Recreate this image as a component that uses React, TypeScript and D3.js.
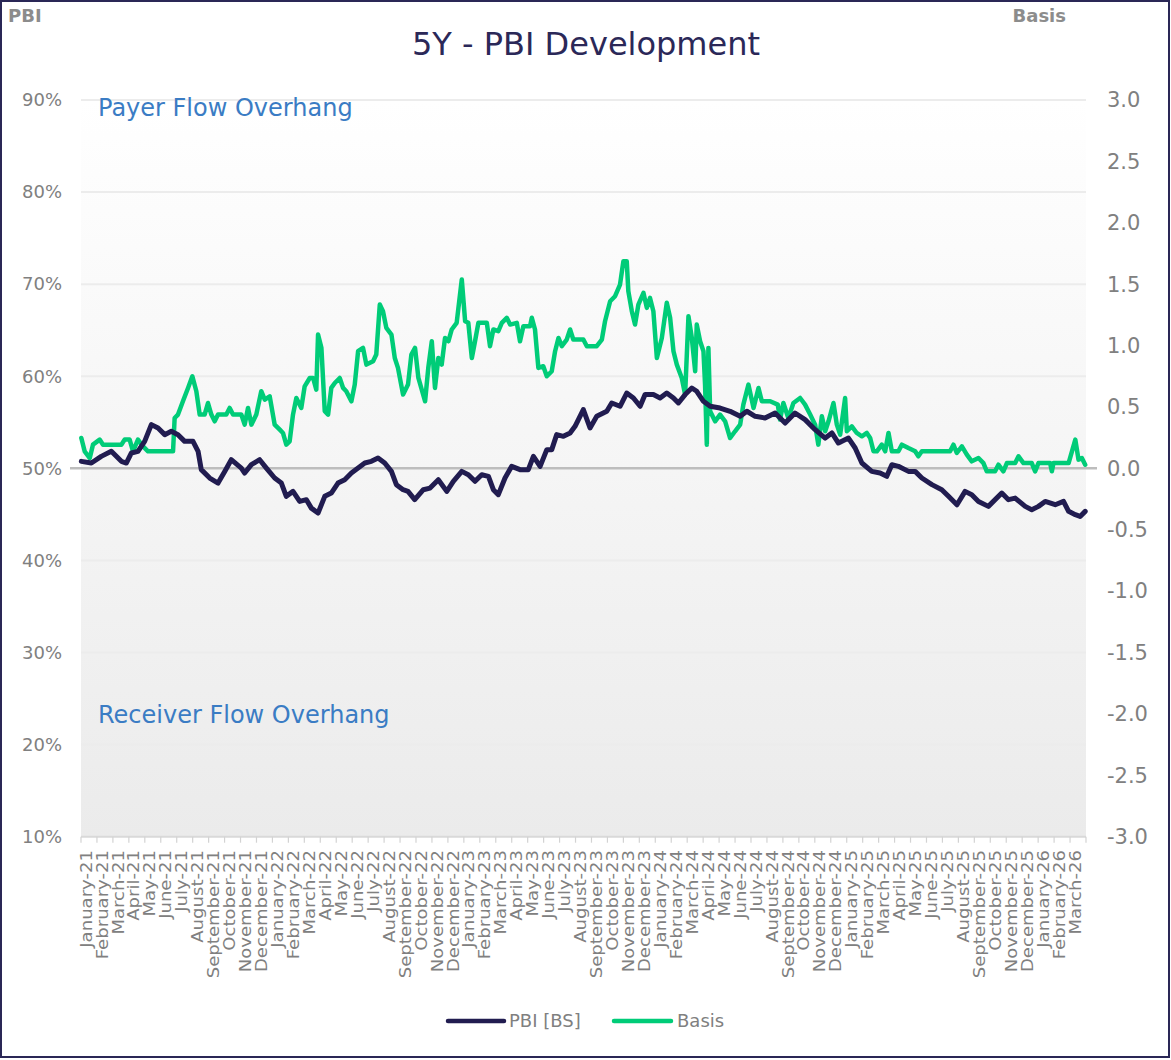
import React from "react";
import * as d3 from "d3";

// months since 1 Jan 2021 (fractional) and PBI values in %
const pbiMonths = [0.02,0.65,1.27,1.90,2.53,2.84,3.16,3.57,3.99,4.41,4.83,5.25,5.66,6.08,6.50,7.02,7.34,7.54,8.07,8.59,9.01,9.42,10.05,10.26,10.68,11.20,11.62,12.14,12.56,12.87,13.29,13.71,14.13,14.44,14.86,15.28,15.69,16.11,16.53,16.95,17.37,17.79,18.20,18.62,19.04,19.46,19.77,20.19,20.50,20.92,21.46,21.88,22.40,22.93,23.34,23.87,24.28,24.70,25.12,25.54,25.85,26.16,26.58,27.00,27.52,28.04,28.36,28.78,29.20,29.51,29.82,30.24,30.66,30.97,31.49,31.91,32.33,32.96,33.27,33.79,34.21,34.63,35.05,35.36,35.88,36.30,36.72,37.14,37.45,37.87,38.29,38.60,39.02,39.44,40.06,40.69,41.32,41.74,42.26,42.88,43.51,44.14,44.76,45.39,46.02,46.65,47.07,47.48,48.11,48.53,48.95,49.57,50.09,50.51,50.83,51.24,51.87,52.29,52.71,53.34,53.96,54.38,54.91,55.42,55.84,56.26,56.88,57.72,58.14,58.56,59.19,59.60,60.02,60.44,61.07,61.59,61.91,62.33,62.63,62.95];
const pbiValues = [50.76,50.58,51.30,51.85,50.76,50.58,51.67,51.85,52.93,54.75,54.38,53.66,54.02,53.66,52.93,52.93,51.85,49.86,48.95,48.40,49.67,50.94,50.03,49.49,50.40,50.94,50.03,48.95,48.40,46.96,47.50,46.41,46.60,45.68,45.14,46.96,47.32,48.40,48.77,49.49,50.03,50.58,50.76,51.12,50.58,49.67,48.23,47.68,47.50,46.60,47.68,47.86,48.77,47.50,48.59,49.67,49.31,48.59,49.31,49.13,47.68,47.14,48.95,50.22,49.86,49.86,51.30,50.22,52.03,52.03,53.66,53.48,53.84,54.57,56.38,54.38,55.65,56.20,57.10,56.74,58.18,57.64,56.74,58.01,58.01,57.64,58.18,57.64,57.10,58.01,58.73,58.37,57.28,56.74,56.55,56.20,55.65,56.20,55.65,55.47,56.01,54.92,56.01,55.29,54.20,53.29,53.84,52.75,53.29,52.21,50.58,49.67,49.49,49.13,50.40,50.22,49.67,49.67,48.95,48.23,47.68,46.96,46.05,47.50,47.14,46.41,45.87,47.32,46.60,46.77,45.87,45.51,45.87,46.41,46.05,46.41,45.33,44.97,44.78,45.33];

// months since 1 Jan 2021 (fractional) and Basis values
const basisMonths = [0.02,0.23,0.55,0.75,1.17,1.38,2.53,2.74,3.05,3.26,3.57,3.89,4.20,5.77,5.87,6.08,6.39,6.71,6.98,7.23,7.44,7.75,7.96,8.17,8.38,8.59,9.11,9.32,9.53,10.05,10.26,10.47,10.68,10.99,11.30,11.52,11.83,12.14,12.46,12.66,12.87,13.08,13.29,13.50,13.81,14.02,14.34,14.55,14.75,14.86,15.07,15.28,15.49,15.69,15.91,16.22,16.43,16.63,16.95,17.16,17.37,17.68,17.89,18.31,18.51,18.73,18.93,19.14,19.46,19.67,19.87,20.19,20.50,20.71,20.94,21.15,21.57,21.77,21.99,22.19,22.40,22.61,22.82,23.03,23.24,23.55,23.87,24.08,24.28,24.50,24.70,24.91,25.44,25.64,25.85,26.16,26.38,26.69,26.90,27.32,27.52,27.73,28.15,28.26,28.46,28.67,28.98,29.20,29.51,29.72,29.93,30.14,30.45,30.66,30.86,31.49,31.71,32.33,32.65,32.85,33.17,33.48,33.79,34.00,34.21,34.31,34.53,34.73,34.94,35.26,35.47,35.67,35.88,36.10,36.41,36.72,36.93,37.14,37.35,37.66,37.87,38.08,38.29,38.50,38.60,38.81,39.02,39.12,39.23,39.33,39.44,39.75,40.06,40.38,40.69,41.00,41.32,41.52,41.84,42.16,42.47,42.68,43.20,43.68,43.82,44.03,44.34,44.66,45.08,45.39,45.71,46.02,46.22,46.44,46.65,46.86,47.17,47.38,47.59,47.90,48.01,48.32,48.63,48.95,49.26,49.47,49.68,49.89,50.20,50.41,50.62,50.83,51.24,51.46,51.87,52.29,52.49,52.71,54.48,54.69,54.90,55.22,55.53,55.84,56.26,56.57,56.78,57.30,57.51,57.82,58.04,58.56,58.77,59.08,59.60,59.81,60.02,60.75,60.86,60.96,61.91,62.12,62.33,62.53,62.74,62.95];
const basisValues = [0.247,0.139,0.084,0.193,0.234,0.193,0.193,0.234,0.234,0.139,0.234,0.179,0.139,0.139,0.410,0.438,0.546,0.655,0.750,0.628,0.438,0.438,0.532,0.438,0.383,0.438,0.438,0.492,0.438,0.438,0.356,0.492,0.356,0.438,0.628,0.560,0.587,0.356,0.315,0.288,0.193,0.220,0.438,0.573,0.492,0.668,0.736,0.736,0.641,1.090,0.981,0.465,0.438,0.655,0.695,0.736,0.655,0.628,0.546,0.682,0.954,0.981,0.845,0.872,0.927,1.334,1.280,1.144,1.090,0.899,0.818,0.601,0.682,0.927,0.981,0.736,0.546,0.818,1.035,0.655,0.899,0.845,1.062,1.035,1.131,1.185,1.538,1.198,1.185,0.899,1.035,1.185,1.185,0.995,1.131,1.117,1.185,1.226,1.171,1.185,1.035,1.158,1.158,1.226,1.131,0.818,0.832,0.750,0.791,0.954,1.062,0.995,1.049,1.131,1.049,1.049,0.995,0.995,1.049,1.198,1.361,1.402,1.497,1.687,1.687,1.443,1.280,1.171,1.334,1.429,1.307,1.388,1.280,0.899,1.062,1.348,1.226,0.954,0.845,0.736,0.601,1.239,1.062,0.791,1.171,1.035,0.954,0.682,0.193,0.981,0.465,0.383,0.438,0.383,0.247,0.302,0.356,0.519,0.682,0.492,0.655,0.546,0.546,0.519,0.397,0.532,0.410,0.532,0.573,0.519,0.438,0.356,0.193,0.424,0.302,0.383,0.532,0.356,0.275,0.573,0.302,0.342,0.288,0.261,0.288,0.247,0.139,0.139,0.193,0.139,0.288,0.139,0.139,0.193,0.165,0.139,0.098,0.139,0.139,0.193,0.125,0.179,0.112,0.057,0.084,0.043,-0.024,-0.024,0.030,-0.024,0.043,0.043,0.098,0.043,0.043,-0.024,0.043,0.043,-0.024,0.043,0.043,0.139,0.234,0.071,0.084,0.030];

const leftTicks = [10, 20, 30, 40, 50, 60, 70, 80, 90];
const rightTicks = [-3, -2.5, -2, -1.5, -1, -0.5, 0, 0.5, 1, 1.5, 2, 2.5, 3];
const monthStarts = d3.timeMonth.range(new Date(2021, 0, 1), new Date(2026, 3, 1));
const monthLabels = monthStarts.map(d3.timeFormat("%B-%y"));

const NAVY = "#211c50";
const GREEN = "#00cc78";
const GRAY_TEXT = "#808080";
const FONT = "'DejaVu Sans', sans-serif";

export default function App() {
  const left = 81, right = 1086, top = 100, bottom = 836.7;
  const x = d3.scaleLinear().domain([0, monthLabels.length]).range([left, right]);
  const yL = d3.scaleLinear().domain([10, 90]).range([bottom, top]);
  const yR = d3.scaleLinear().domain([-3, 3]).range([bottom, top]);

  const pbiLine = d3.line<number>().x((_, i) => x(pbiMonths[i])).y((d) => yL(d))(pbiValues) || "";
  const basisLine = d3.line<number>().x((_, i) => x(basisMonths[i])).y((d) => yR(d))(basisValues) || "";

  const tickIdx = d3.range(monthLabels.length + 1);

  return (
    <svg width={1171} height={1060} style={{ position: "absolute", left: 0, top: 0, background: "#fff" }} fontFamily={FONT}>
      <defs>
        <linearGradient id="plotbg" x1="0" y1="0" x2="0" y2="1">
          <stop offset="0" stopColor="#ffffff" />
          <stop offset="1" stopColor="#ebebeb" />
        </linearGradient>
      </defs>
      <rect x={0} y={0} width={1171} height={1060} fill="#ffffff" />
      <rect x={left} y={top} width={right - left} height={bottom - top} fill="url(#plotbg)" />

      {leftTicks.filter((t) => t !== 10 && t !== 50).map((t) => (
        <line key={"g" + t} x1={left} x2={right} y1={yL(t)} y2={yL(t)} stroke="#ececec" strokeWidth={2} />
      ))}

      <line x1={left} x2={right} y1={bottom} y2={bottom} stroke="#d9d9d9" strokeWidth={2} />
      {tickIdx.map((i) => (
        <line key={"t" + i} x1={x(i)} x2={x(i)} y1={bottom} y2={bottom + 6} stroke="#d3d3d3" strokeWidth={1.2} />
      ))}

      <line x1={70} x2={1097} y1={yR(0)} y2={yR(0)} stroke="#bdbdbd" strokeWidth={2.5} />

      <path d={basisLine} fill="none" stroke={GREEN} strokeWidth={4.5} strokeLinejoin="round" strokeLinecap="round" />
      <path d={pbiLine} fill="none" stroke={NAVY} strokeWidth={5} strokeLinejoin="round" strokeLinecap="round" />

      {leftTicks.map((t) => (
        <text key={"l" + t} x={62} y={yL(t)} dy="0.35em" textAnchor="end" fontSize={18} fill={GRAY_TEXT}>
          {t + "%"}
        </text>
      ))}
      {rightTicks.map((t) => (
        <text key={"r" + t} x={1107} y={yR(t)} dy="0.35em" textAnchor="start" fontSize={21} fill={GRAY_TEXT}>
          {t.toFixed(1)}
        </text>
      ))}

      {monthLabels.map((m, i) => (
        <text key={"m" + i} transform={`translate(${x(i) + 5},${850}) rotate(-90) scale(1.13,1)`} textAnchor="end" dy="0.35em" fontSize={16} fill={GRAY_TEXT}>
          {m}
        </text>
      ))}

      <text x={8} y={22} fontSize={18} fontWeight="bold" fill="#8c8c8c">PBI</text>
      <text x={1066} y={22} fontSize={18} fontWeight="bold" fill="#8c8c8c" textAnchor="end">Basis</text>
      <text x={586} y={55} fontSize={32} fill="#2b2858" textAnchor="middle">5Y - PBI Development</text>

      <text x={98} y={116} fontSize={24} fill="#3a7cc4">Payer Flow Overhang</text>
      <text x={98} y={723} fontSize={24} fill="#3a7cc4">Receiver Flow Overhang</text>

      <line x1={448} x2={504} y1={1021} y2={1021} stroke={NAVY} strokeWidth={4.5} strokeLinecap="round" />
      <text x={509} y={1021} dy="0.35em" fontSize={18} fill={GRAY_TEXT}>PBI [BS]</text>
      <line x1={614} x2={671} y1={1021} y2={1021} stroke={GREEN} strokeWidth={4.5} strokeLinecap="round" />
      <text x={677} y={1021} dy="0.35em" fontSize={18} fill={GRAY_TEXT}>Basis</text>

      <rect x={1} y={1} width={1168} height={1056} fill="none" stroke="#2a2756" strokeWidth={2} />
    </svg>
  );
}
